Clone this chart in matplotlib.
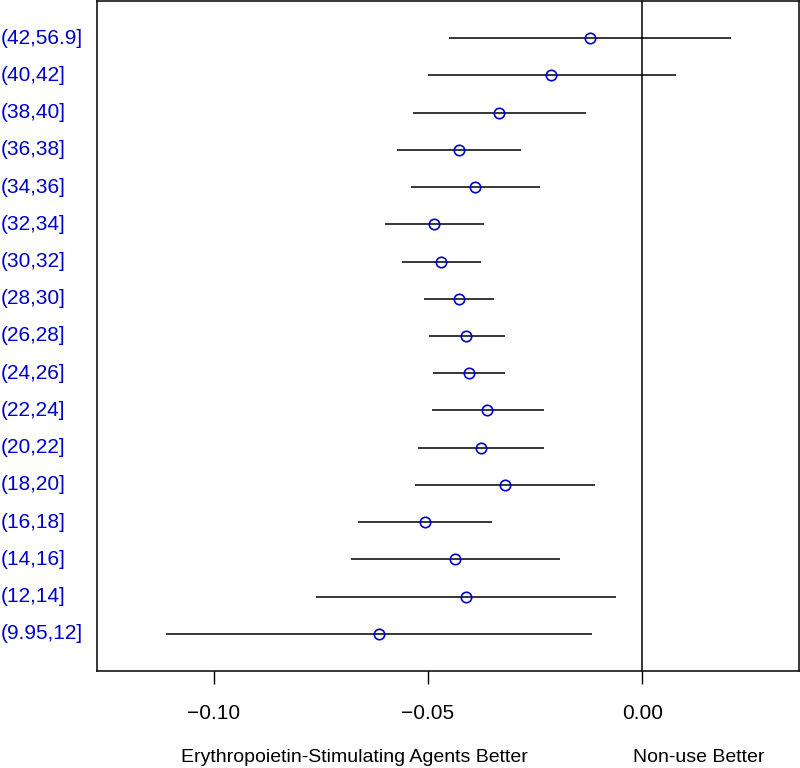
import matplotlib
matplotlib.use('Agg')
import matplotlib.pyplot as plt
import matplotlib.transforms as mtransforms

# groups from top to bottom
groups = ['(42,56.9]', '(40,42]', '(38,40]', '(36,38]', '(34,36]', '(32,34]',
          '(30,32]', '(28,30]', '(26,28]', '(24,26]', '(22,24]', '(20,22]',
          '(18,20]', '(16,18]', '(14,16]', '(12,14]', '(9.95,12]']
est = [-0.0122, -0.0212, -0.0334, -0.0428, -0.0390, -0.0485,
       -0.0469, -0.0427, -0.0410, -0.0404, -0.0362, -0.0377,
       -0.0321, -0.0506, -0.0436, -0.0411, -0.0614]
lower = [-0.0450, -0.0500, -0.0534, -0.0573, -0.0540, -0.0599,
         -0.0560, -0.0509, -0.0497, -0.0487, -0.0490, -0.0523,
         -0.0531, -0.0663, -0.0679, -0.0761, -0.1111]
upper = [0.0207, 0.0078, -0.0132, -0.0283, -0.0239, -0.0369,
         -0.0375, -0.0345, -0.0321, -0.0321, -0.0230, -0.0230,
         -0.0109, -0.0350, -0.0191, -0.0061, -0.0116]
ticks = [-0.10, -0.05, 0.00]
tick_labels = ['\u22120.10', '\u22120.05', '0.00']
left_note = 'Erythropoietin-Stimulating Agents Better'
right_note = 'Non-use Better'

plt.rcParams['font.family'] = ['Liberation Sans', 'DejaVu Sans']

fig = plt.figure(figsize=(8, 7.68), dpi=100)
ax = fig.add_axes([0.12125, 0.1263, 0.8775, 0.8725])

n = len(groups)
ypos = [n - i for i in range(n)]

ax.hlines(ypos, lower, upper, color='black', lw=1.1)
ax.plot(est, ypos, 'o', mfc='none', mec='#0000cc', ms=7.5, mew=1.2)
ax.axvline(0, color='black', lw=1.1)

ax.set_xlim(-0.1272, 0.0366)
ax.set_ylim(0, n + 1)

ax.set_xticks(ticks)
ax.set_xticklabels(tick_labels, fontsize=15)
ax.tick_params(axis='x', length=9, width=1, pad=15, direction='out')
ax.set_yticks([])
for s in ax.spines.values():
    s.set_linewidth(1.1)

# group labels, left aligned at the figure edge
trans = mtransforms.blended_transform_factory(fig.transFigure, ax.transData)
for g, y in zip(groups, ypos):
    fig.text(0.001, y, g, transform=trans, color='#0000cc', fontsize=15,
             ha='left', va='center')

# notes under the axis
trans2 = mtransforms.blended_transform_factory(ax.transData, fig.transFigure)
fig.text(-0.0671, 1 - 758 / 768, left_note, transform=trans2, fontsize=14,
         ha='center', va='center')
fig.text(0.0133, 1 - 758 / 768, right_note, transform=trans2, fontsize=14,
         ha='center', va='center')

fig.savefig('out.png', dpi=100)
